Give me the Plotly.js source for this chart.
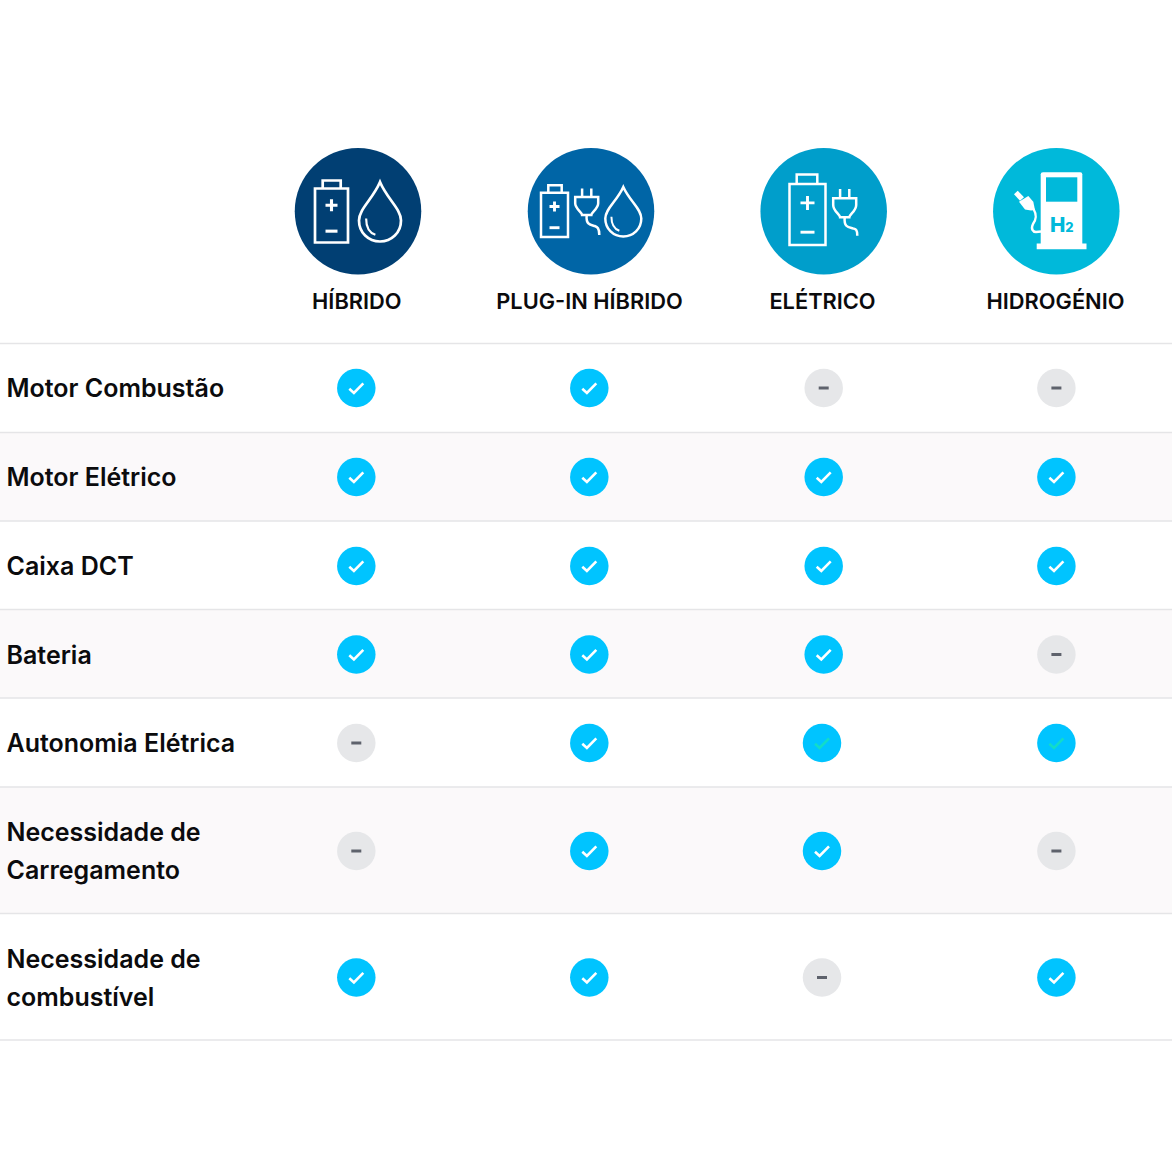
<!DOCTYPE html>
<html><head><meta charset="utf-8">
<script src="https://cdn.plot.ly/plotly-3.0.1.min.js"></script>
<style>html,body{margin:0;padding:0;background:#fff}</style></head>
<body><div id="chart" style="width:1172px;height:1162px"></div>
<script>
// ---- data ----
const technologies = ["HÍBRIDO","PLUG-IN HÍBRIDO","ELÉTRICO","HIDROGÉNIO"];
const techColors = ["#013f73","#0065a6","#009ecb","#00b9da"];
const headerX = [358,591,823.7,1056.3];
const labelX = [356.8,589.5,822.5,1055.5];
const rowLabels = [["Motor Combustão"],["Motor Elétrico"],["Caixa DCT"],["Bateria"],["Autonomia Elétrica"],["Necessidade de","Carregamento"],["Necessidade de","combustível"]];
const rowY = [388,477,566,654.5,743,851,977.5];
const rowLines = [343.5,432.5,521,609.5,698,787,913.5,1040];
// 1 = yes, 0 = no, 2 = yes (faint green tick)
const hibrido   = [1,1,1,1,0,0,1];
const plugin    = [1,1,1,1,1,1,1];
const eletrico  = [0,1,1,1,2,1,0];
const hidrogenio= [0,1,1,0,2,0,1];
const matrix = [hibrido,plugin,eletrico,hidrogenio];
const colX = [[356.3,356.3,356.3,356.3,356.3,356.3,356.3],[589.3,589.3,589.3,589.3,589.3,589.3,589.3],[823.7,823.7,823.7,823.7,822,822,822],[1056.4,1056.4,1056.4,1056.4,1056.4,1056.4,1056.4]];

// ---- helpers ----
const FONT = "Inter, 'Noto Sans', sans-serif";
const shapes = [];
const addPath = (path,color,w,fill) => shapes.push({type:'path',xref:'x',yref:'y',path,line:{color:color,width:w},fillcolor:fill||'rgba(0,0,0,0)'});
const hline = (y,c,x0=0,x1=1172)=>shapes.push({type:'line',xref:'x',yref:'y',x0,x1,y0:y,y1:y,line:{color:c,width:1.6},layer:'below'});
const band = (y0,y1)=>shapes.push({type:'rect',xref:'x',yref:'y',x0:0,x1:1172,y0,y1,fillcolor:'#fbf9fa',line:{width:0},layer:'below'});

[1,3,5].forEach(i=>band(rowLines[i],rowLines[i+1]));
rowLines.forEach(y=>hline(y,'#e5e5e7'));

const battery=(l,r,t,b,cl,cr,ct,w,pm)=>{
  addPath(`M${l},${t} L${r},${t} L${r},${b} L${l},${b} Z`,'#fff',w);
  addPath(`M${cl},${t} L${cl},${ct} L${cr},${ct} L${cr},${t}`,'#fff',w);
  const cx=(l+r)/2, py=t+(b-t)*.31, my=t+(b-t)*.79;
  addPath(`M${cx-pm},${py} L${cx+pm},${py} M${cx},${py-pm} L${cx},${py+pm}`,'#fff',w+.4);
  addPath(`M${cx-pm},${my} L${cx+pm},${my}`,'#fff',w+.4);
};
const drop=(cx,tip,bot,r,w)=>{
  const cy=bot-r;
  addPath(`M${cx},${tip} C${cx-r*.35},${tip+(cy-tip)*.45} ${cx-r},${cy-r*.55} ${cx-r},${cy} C${cx-r},${cy+r*.58} ${cx-r*.55},${bot} ${cx},${bot} C${cx+r*.55},${bot} ${cx+r},${cy+r*.58} ${cx+r},${cy} C${cx+r},${cy-r*.55} ${cx+r*.35},${tip+(cy-tip)*.45} ${cx},${tip} Z`,'#fff',w);
  addPath(`M${cx-r*.66},${cy-r*.1} C${cx-r*.66},${cy+r*.35} ${cx-r*.45},${cy+r*.6} ${cx-r*.22},${cy+r*.68}`,'#fff',w*.8);
};
const plug=(cx,top,wd,pinY,headB,cordEndX,cordEndY,w)=>{
  const h=wd/2,p=wd*.2;
  addPath(`M${cx-p},${top} L${cx-p},${pinY} M${cx+p},${top} L${cx+p},${pinY}`,'#fff',w);
  addPath(`M${cx-h},${pinY} L${cx+h},${pinY} L${cx+h},${pinY+(headB-pinY)*.35} C${cx+h},${headB-6} ${cx+h*.4},${headB-3} ${cx+h*.4},${headB} L${cx-h*.4},${headB} C${cx-h*.4},${headB-3} ${cx-h},${headB-6} ${cx-h},${pinY+(headB-pinY)*.35} Z`,'#fff',w);
  addPath(`M${cx},${headB} C${cx-1},${headB+10} ${cx+4},${headB+10} ${cx+8},${headB+11} C${cordEndX-2},${headB+12} ${cordEndX},${cordEndY-7} ${cordEndX},${cordEndY}`,'#fff',w);
};

// Icons
battery(315,348,188.5,242.5,322.7,340.7,180.5,2.7,6);
drop(380,182,241.5,21,2.7);
battery(541,568,192.7,237,548.3,561.7,185.2,2.5,5);
plug(586.7,188.5,23,197,215,599.3,235,2.5);
drop(623.3,187,236.5,18,2.5);
battery(789.5,825.5,184,245,796.7,817.3,174.5,2.5,7);
plug(844.7,189,23,198.3,217.3,857.3,235.7,2.5);
// hydrogen pump
addPath('M1043,172.3 L1080.3,172.3 Q1082.3,172.3 1082.3,174.3 L1082.3,244 L1040.7,244 L1040.7,174.3 Q1040.7,172.3 1043,172.3 Z','#fff',0,'#fff');
addPath('M1036.7,243.5 L1086.5,243.5 L1086.5,249.3 L1036.7,249.3 Z','#fff',0,'#fff');
addPath('M1046,177.3 L1077.3,177.3 L1077.3,201.7 L1046,201.7 Z','#00b9da',0,'#00b9da');
addPath('M1033.5,209 C1037,215 1036.5,219 1033,224 C1030.5,229 1033,232 1036,232 L1041,231.5','#fff',2.4);
addPath('M1014,194.3 L1017.7,190.7 L1024,197.3 L1020,200.7 Z','#fff',0,'#fff');
addPath('M1019,201.7 L1028.3,196 L1033.3,201.7 L1035,210 L1031,210.5 L1025,209.5 Z','#fff',0,'#fff');

// Ticks and dashes in table cells
const tickC={1:'#ffffff',2:'#12dcc8'};
matrix.forEach((col,c)=>col.forEach((v,r)=>{
  const x=colX[c][r],y=rowY[r];
  if(v===0) addPath(`M${x-5},${y} L${x+5},${y}`,'#5e626c',3);
  else addPath(`M${x-7},${y+0.8} L${x-2.4},${y+5} L${x+7},${y-4.6}`,tickC[v],2.6);
}));

const cell=(v)=>{const xs=[],ys=[];matrix.forEach((col,c)=>col.forEach((s,r)=>{if(v.includes(s)){xs.push(colX[c][r]);ys.push(rowY[r]);}}));return {xs,ys};};
const yes=cell([1,2]), no=cell([0]);

const rowTextX=[],rowTextY=[],rowText=[];
rowLabels.forEach((lines,i)=>lines.forEach((t,j)=>{rowTextX.push(6.5);rowTextY.push(rowY[i]+2.8+(lines.length>1?(j-.5)*38:0));rowText.push(t);}));

const traces=[
 {type:'scatter',mode:'markers',x:headerX,y:headerX.map(()=>211.2),marker:{size:126.5,color:techColors,line:{width:0}},hoverinfo:'skip'},
 {type:'scatter',mode:'markers',x:yes.xs,y:yes.ys,marker:{size:38.5,color:'#00c4ff',line:{width:0}},hoverinfo:'skip'},
 {type:'scatter',mode:'markers',x:no.xs,y:no.ys,marker:{size:38.5,color:'#e6e7e9',line:{width:0}},hoverinfo:'skip'},
 {type:'scatter',mode:'text',x:labelX,y:labelX.map(()=>304),text:technologies,textposition:'middle center',textfont:{family:FONT,size:21.8,color:'#0b0b0d',weight:600},hoverinfo:'skip'},
 {type:'scatter',mode:'text',x:rowTextX,y:rowTextY,text:rowText,textposition:'middle right',textfont:{family:FONT,size:25,color:'#0b0b0d',weight:600},hoverinfo:'skip'}
];
const axis={visible:false,fixedrange:true,showgrid:false,zeroline:false};
Plotly.newPlot('chart',traces,{
  width:1172,height:1162,margin:{l:0,r:0,t:0,b:0},showlegend:false,
  paper_bgcolor:'#fff',plot_bgcolor:'rgba(0,0,0,0)',
  xaxis:{...axis,range:[0,1172]},yaxis:{...axis,range:[1162,0]},shapes,
  annotations:[{xref:'x',yref:'y',x:1062,y:224,text:'H<span style="font-size:13px">2</span>',showarrow:false,font:{family:FONT,size:20.5,color:'#00b9da',weight:800}}]
},{displayModeBar:false,staticPlot:true});
</script></body></html>
